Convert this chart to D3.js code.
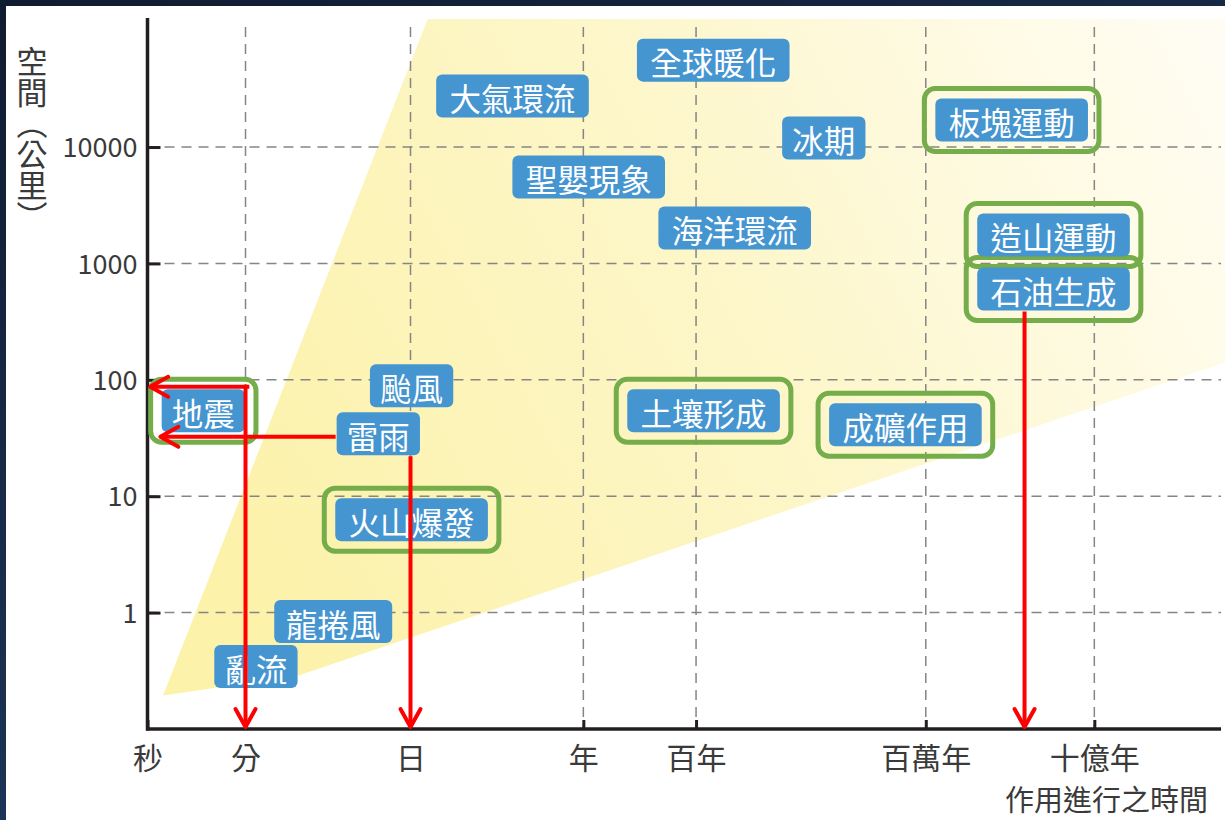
<!DOCTYPE html>
<html>
<head>
<meta charset="utf-8">
<script src="https://cdn.jsdelivr.net/npm/d3@7"></script>
<style>
  html, body { margin: 0; padding: 0; }
  body {
    width: 1225px; height: 820px; overflow: hidden;
    background: linear-gradient(160deg, #0f1b30 0%, #1b3050 55%, #22406a 100%);
  }
  svg { display: block; }
  text { font-family: "Noto Sans CJK TC", "Noto Sans", sans-serif; }
</style>
</head>
<body>
<svg id="chart" width="1225" height="820"></svg>
<script>
// Time axis: relative (log-like) position of each named time scale, 0–100
const timeLabels    = ["秒", "分", "日", "年", "百年", "百萬年", "十億年"];
const timePositions = [0, 9.13, 24.5, 40.6, 51.1, 72.5, 88.2];

// Space axis (km), logarithmic
const spaceTicks = [1, 10, 100, 1000, 10000];
const spaceDomain = [0.1, 125900];

// Phenomena: name, time position, spatial extent (km)
const phenomena      = ["全球暖化", "大氣環流", "冰期", "板塊運動", "聖嬰現象", "海洋環流", "造山運動", "石油生成",
                        "颱風", "地震", "雷雨", "土壤形成", "成礦作用", "火山爆發", "龍捲風", "亂流"];
const phenomenaTime  = [52.7, 34.0, 63.0, 80.5, 41.1, 54.7, 84.4, 84.4,
                        24.6, 5.2, 21.5, 51.8, 70.6, 24.6, 17.3, 10.1];
const phenomenaSpace = [55800, 27400, 11950, 17060, 5520, 2018, 1757, 604,
                        88.8, 54.2, 34.4, 54.2, 41.1, 6.29, 0.837, 0.344];

// Solid-earth processes, outlined in green
const geologic = ["板塊運動", "造山運動", "石油生成", "地震", "土壤形成", "成礦作用", "火山爆發"];

// Shaded band of typical time/space scales (polygon vertices)
const bandTime  = [1.45, 14.06, 100.6, 100.6, 26.1];
const bandSpace = [0.194, 0.288, 143, 125900, 125900];

// Reading arrows: down to the time axis, across to the space axis
const dropTime  = [9.13, 24.5, 81.7];
const dropFrom  = [87, "雷雨", "石油生成"];
const crossSpace = [87, 32.4];
const crossFrom  = [9.3, "雷雨"];
const crossTo    = [0.25, 1.2];

const svg = d3.select("#chart");

const x = d3.scaleLinear().domain([0, 100]).range([147.5, 1221]);
const y = d3.scaleLog().domain(spaceDomain).range([729, 19]);

// white panel
svg.append("rect").attr("x", 6).attr("y", 6).attr("width", 1225).attr("height", 820).attr("fill", "#ffffff");

// band gradient
const defs = svg.append("defs");
const grad = defs.append("linearGradient").attr("id", "bandFill")
  .attr("gradientUnits", "userSpaceOnUse")
  .attr("x1", 250).attr("y1", 600).attr("x2", 1225).attr("y2", 80);
grad.append("stop").attr("offset", 0).attr("stop-color", "#fcf2aa");
grad.append("stop").attr("offset", 0.5).attr("stop-color", "#fdf6c8");
grad.append("stop").attr("offset", 1).attr("stop-color", "#fffdf3");

const bandPts = bandTime.map((t, i) => [x(t), y(bandSpace[i])]);
svg.append("path")
  .attr("d", d3.line()(bandPts) + "Z")
  .attr("fill", "url(#bandFill)");

// grid
const grid = svg.append("g").attr("stroke", "#858585").attr("stroke-width", 1.5)
  .attr("stroke-dasharray", "10,7").attr("fill", "none");
grid.selectAll("line.h").data(spaceTicks).join("line").attr("class", "h")
  .attr("x1", x(0)).attr("x2", x(100))
  .attr("y1", d => y(d)).attr("y2", d => y(d));
grid.selectAll("line.v").data(timePositions.slice(1)).join("line").attr("class", "v")
  .attr("x1", d => x(d)).attr("x2", d => x(d))
  .attr("y1", y(spaceDomain[1]) + 8).attr("y2", y(spaceDomain[0]));

// axes
const yAxis = d3.axisLeft(y).tickValues(spaceTicks).tickFormat(d3.format("d"))
  .tickSizeInner(-13).tickSizeOuter(0).tickPadding(10);
const gy = svg.append("g").attr("transform", `translate(${x(0)},0)`).call(yAxis);

const xAxis = d3.axisBottom(x).tickValues(timePositions).tickFormat((d, i) => timeLabels[i])
  .tickSizeInner(-9).tickSizeOuter(0).tickPadding(29);
const gx = svg.append("g").attr("transform", `translate(0,${y(spaceDomain[0])})`).call(xAxis);

[gx, gy].forEach(g => {
  g.select(".domain").attr("stroke", "#231f20").attr("stroke-width", 3.5);
  g.selectAll(".tick line").attr("stroke", "#231f20").attr("stroke-width", 3);
  g.selectAll(".tick text").attr("fill", "#3a3a3a")
    .style("font-family", "'Noto Sans CJK TC', sans-serif");
});
gy.selectAll(".tick text").attr("font-size", 27).attr("dy", "0.36em");
gx.selectAll(".tick text").attr("font-size", 30).attr("dy", "0.36em");
gx.select(".domain").attr("d", `M${x(0) - 1.5},0H${x(100)}`);
gy.select(".domain").attr("d", `M0,${y(spaceDomain[0]) + 1.5}V${y(spaceDomain[1]) - 1}`);

// axis titles
svg.append("text")
  .attr("x", 32).attr("y", 46)
  .style("writing-mode", "vertical-rl")
  .attr("font-size", 31)
  .attr("fill", "#3a3a3a")
  .text("空間（公里）");

svg.append("text")
  .attr("x", 1208).attr("y", 811)
  .attr("text-anchor", "end")
  .attr("font-size", 29).attr("fill", "#3a3a3a")
  .text("作用進行之時間");

// labels
const items = phenomena.map((name, i) => ({
  name, cx: x(phenomenaTime[i]), cy: y(phenomenaSpace[i]), geo: geologic.includes(name)
}));

const frameLayer = svg.append("g");
const boxLayer = svg.append("g");

const boxH = 43;
items.forEach(d => {
  const g = boxLayer.append("g");
  const rect = g.append("rect").attr("fill", "#4595d1").attr("rx", 6);
  const t = g.append("text")
    .attr("x", d.cx).attr("y", d.cy + 1)
    .attr("text-anchor", "middle").attr("dominant-baseline", "central")
    .attr("font-size", 31.5).attr("fill", "#ffffff")
    .text(d.name);
  const len = t.node().getComputedTextLength();
  const w = len * 1.1 + 14;
  d.box = { x: d.cx - w / 2, y: d.cy - boxH / 2, w, h: boxH };
  rect.attr("x", d.box.x).attr("y", d.box.y).attr("width", w).attr("height", boxH);
});

frameLayer.selectAll("rect").data(items.filter(d => d.geo)).join("rect")
  .attr("x", d => d.box.x - 11).attr("y", d => d.box.y - 10)
  .attr("width", d => d.box.w + 22).attr("height", d => d.box.h + 20)
  .attr("rx", 11)
  .attr("fill", "none").attr("stroke", "#74ad49").attr("stroke-width", 5);

// arrows
const byName = Object.fromEntries(items.map(d => [d.name, d]));
const arrows = svg.append("g").attr("stroke", "#ff0000").attr("stroke-width", 4)
  .attr("fill", "none").attr("stroke-linecap", "round").attr("stroke-linejoin", "round");
const head = 18, spread = 10;

dropTime.forEach((t, i) => {
  const xx = x(t);
  const src = dropFrom[i];
  const y0 = typeof src === "string" ? byName[src].box.y + byName[src].box.h + 1 : y(src) - 2;
  const y1 = y(spaceDomain[0]) - 2;
  arrows.append("path").attr("stroke-linecap", "butt")
    .attr("d", `M${xx},${y0}V${y1}`);
  arrows.append("path")
    .attr("d", `M${xx - spread},${y1 - head}L${xx},${y1}L${xx + spread},${y1 - head}`);
});

crossSpace.forEach((s, i) => {
  const yy = y(s);
  const src = crossFrom[i];
  const x0 = typeof src === "string" ? byName[src].box.x - 1 : x(src) + 2;
  const x1 = x(crossTo[i]);
  arrows.append("path").attr("stroke-linecap", "butt")
    .attr("d", `M${x0},${yy}H${x1}`);
  arrows.append("path")
    .attr("d", `M${x1 + head},${yy - spread}L${x1},${yy}L${x1 + head},${yy + spread}`);
});
</script>
</body>
</html>
